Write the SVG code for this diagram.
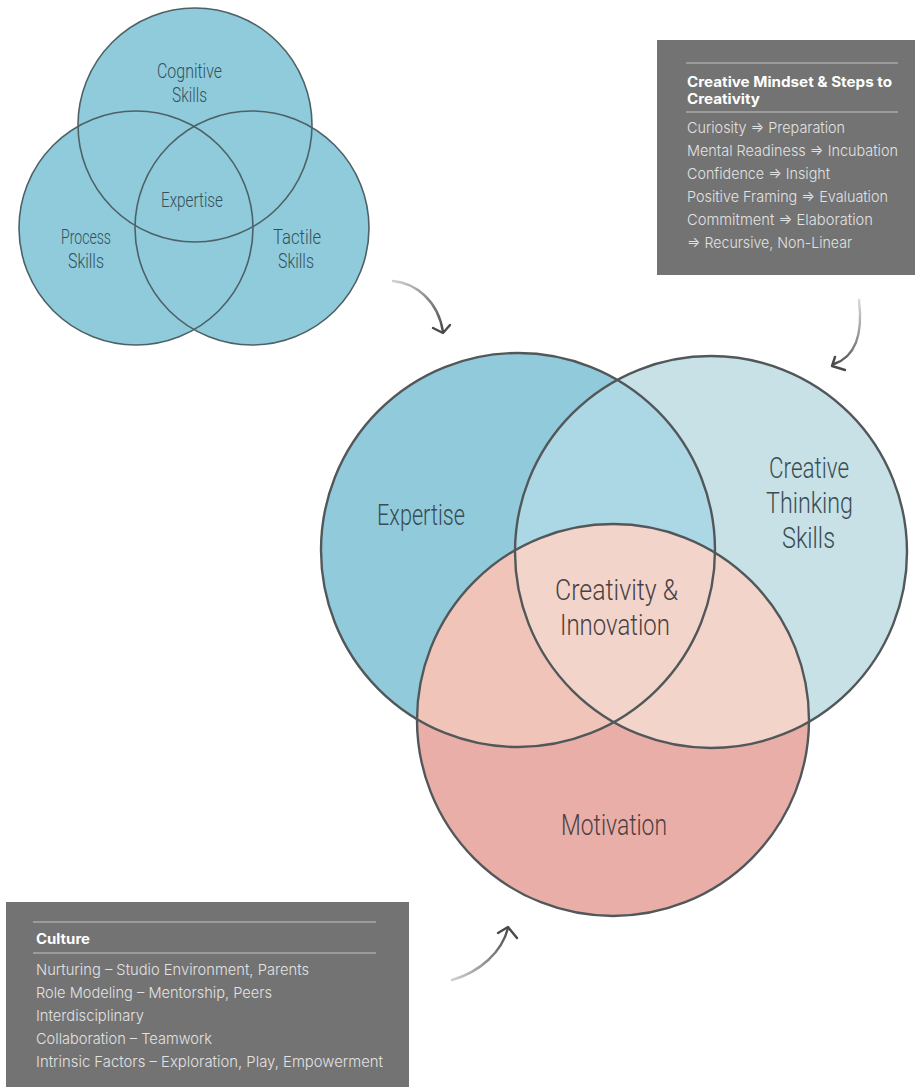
<svg xmlns="http://www.w3.org/2000/svg" width="915" height="1087" viewBox="0 0 915 1087">
<style>
.hand{font-family:"Roboto","DejaVu Sans Condensed",sans-serif;font-weight:300;text-anchor:start;}
.s{font-size:20px;fill:#34505a;}
.b{font-size:30px;fill:#3a4d54;}
.bm{font-size:30px;fill:#4a4042;}
.sc{fill:none;stroke:#4d6167;stroke-width:1.6;}
.bc{fill:none;stroke:#52585a;stroke-width:2.4;}
.box{fill:#737373;}
.rule{stroke:#d8d8d8;stroke-width:1.2;opacity:0.8;}
.h{font-family:"Inter","Liberation Sans",sans-serif;font-weight:700;font-size:14px;fill:#ffffff;}
.t{font-family:"Inter","Liberation Sans",sans-serif;font-weight:300;font-size:15px;fill:#e2e2e2;}
.arr{fill:none;stroke-width:2.4;stroke-linecap:round;stroke-linejoin:round;}
</style>
<defs>
<clipPath id="cE"><circle cx="518" cy="550" r="197"/></clipPath>
<clipPath id="cC"><circle cx="711" cy="552" r="196"/></clipPath>
<linearGradient id="g1" gradientUnits="userSpaceOnUse" x1="393" y1="282" x2="443" y2="333"><stop offset="0" stop-color="#d0d0d0"/><stop offset="1" stop-color="#4a4a4a"/></linearGradient>
<linearGradient id="g2" gradientUnits="userSpaceOnUse" x1="859" y1="300" x2="832" y2="366"><stop offset="0" stop-color="#d8d8d8"/><stop offset="1" stop-color="#4a4a4a"/></linearGradient>
<linearGradient id="g3" gradientUnits="userSpaceOnUse" x1="452" y1="980" x2="508" y2="927"><stop offset="0" stop-color="#d0d0d0"/><stop offset="1" stop-color="#4a4a4a"/></linearGradient>
</defs>
<rect width="915" height="1087" fill="#ffffff"/>

<!-- small venn fills -->
<g id="small-fills" fill="#8fcbdb">
<circle cx="195" cy="125" r="117"/>
<circle cx="136" cy="228" r="117"/>
<circle cx="252" cy="228" r="117"/>
</g>
<g id="node-cognitive">
<circle class="sc" cx="195" cy="125" r="117"/>
<text class="hand s" x="157" y="78" textLength="65" lengthAdjust="spacingAndGlyphs">Cognitive</text>
<text class="hand s" x="172" y="102" textLength="35" lengthAdjust="spacingAndGlyphs">Skills</text>
</g>
<g id="node-process">
<circle class="sc" cx="136" cy="228" r="117"/>
<text class="hand s" x="61" y="244" textLength="50" lengthAdjust="spacingAndGlyphs">Process</text>
<text class="hand s" x="68" y="268" textLength="36" lengthAdjust="spacingAndGlyphs">Skills</text>
</g>
<g id="node-tactile">
<circle class="sc" cx="252" cy="228" r="117"/>
<text class="hand s" x="273" y="244" textLength="48" lengthAdjust="spacingAndGlyphs">Tactile</text>
<text class="hand s" x="278" y="268" textLength="36" lengthAdjust="spacingAndGlyphs">Skills</text>
</g>
<g id="node-small-expertise">
<text class="hand s" x="161" y="207" textLength="62" lengthAdjust="spacingAndGlyphs">Expertise</text>
</g>

<!-- big venn region fills -->
<g id="big-fills">
<circle cx="518" cy="550" r="197" fill="#91cbdb"/>
<circle cx="711" cy="552" r="196" fill="#c7e1e6"/>
<g clip-path="url(#cE)"><circle cx="711" cy="552" r="196" fill="#acd7e5"/></g>
<circle cx="613" cy="720" r="196" fill="#eaaea8"/>
<g clip-path="url(#cE)"><circle cx="613" cy="720" r="196" fill="#f1c4ba"/></g>
<g clip-path="url(#cC)"><circle cx="613" cy="720" r="196" fill="#f2d4ca"/></g>
<g clip-path="url(#cE)"><g clip-path="url(#cC)"><circle cx="613" cy="720" r="196" fill="#f3d4ca"/></g></g>
</g>
<g id="node-expertise">
<circle class="bc" cx="518" cy="550" r="197"/>
<text class="hand b" x="377" y="525" textLength="88" lengthAdjust="spacingAndGlyphs">Expertise</text>
</g>
<g id="node-creative-thinking">
<circle class="bc" cx="711" cy="552" r="196"/>
<text class="hand b" x="769" y="478" textLength="80" lengthAdjust="spacingAndGlyphs">Creative</text>
<text class="hand b" x="766" y="513" textLength="87" lengthAdjust="spacingAndGlyphs">Thinking</text>
<text class="hand b" x="782" y="548" textLength="53" lengthAdjust="spacingAndGlyphs">Skills</text>
</g>
<g id="node-motivation">
<circle class="bc" cx="613" cy="720" r="196"/>
<text class="hand bm" x="561" y="835" textLength="106" lengthAdjust="spacingAndGlyphs">Motivation</text>
</g>
<g id="node-creativity-innovation">
<text class="hand bm" x="555" y="600" textLength="123" lengthAdjust="spacingAndGlyphs">Creativity &amp;</text>
<text class="hand bm" x="560" y="635" textLength="110" lengthAdjust="spacingAndGlyphs">Innovation</text>
</g>

<!-- boxes -->
<g id="node-mindset">
<rect class="box" x="657" y="40" width="258" height="235"/>
<line class="rule" x1="686" y1="63" x2="898" y2="63"/>
<text class="h" x="687" y="87" textLength="205" lengthAdjust="spacingAndGlyphs">Creative Mindset &amp; Steps to</text>
<text class="h" x="687" y="104" textLength="73" lengthAdjust="spacingAndGlyphs">Creativity</text>
<line class="rule" x1="686" y1="112" x2="898" y2="112"/>
<text class="t" x="687" y="133" textLength="158" lengthAdjust="spacingAndGlyphs">Curiosity ⇒ Preparation</text>
<text class="t" x="687" y="156" textLength="211" lengthAdjust="spacingAndGlyphs">Mental Readiness ⇒ Incubation</text>
<text class="t" x="687" y="179" textLength="143" lengthAdjust="spacingAndGlyphs">Confidence ⇒ Insight</text>
<text class="t" x="687" y="202" textLength="201" lengthAdjust="spacingAndGlyphs">Positive Framing ⇒ Evaluation</text>
<text class="t" x="687" y="225" textLength="186" lengthAdjust="spacingAndGlyphs">Commitment ⇒ Elaboration</text>
<text class="t" x="687" y="248" textLength="165" lengthAdjust="spacingAndGlyphs">⇒ Recursive, Non-Linear</text>
</g>
<g id="node-culture">
<rect class="box" x="6" y="902" width="403" height="185"/>
<line class="rule" x1="33" y1="922" x2="376" y2="922"/>
<text class="h" x="36" y="944" textLength="54" lengthAdjust="spacingAndGlyphs">Culture</text>
<line class="rule" x1="33" y1="953" x2="376" y2="953"/>
<text class="t" x="36" y="975" textLength="273" lengthAdjust="spacingAndGlyphs">Nurturing – Studio Environment, Parents</text>
<text class="t" x="36" y="998" textLength="236" lengthAdjust="spacingAndGlyphs">Role Modeling – Mentorship, Peers</text>
<text class="t" x="36" y="1021" textLength="108" lengthAdjust="spacingAndGlyphs">Interdisciplinary</text>
<text class="t" x="36" y="1044" textLength="176" lengthAdjust="spacingAndGlyphs">Collaboration – Teamwork</text>
<text class="t" x="36" y="1067" textLength="347" lengthAdjust="spacingAndGlyphs">Intrinsic Factors  – Exploration, Play, Empowerment</text>
</g>

<!-- connectors -->
<g id="connectors">
<path class="arr" stroke="url(#g1)" d="M393 281 C415 283 438 300 443 332"/>
<path class="arr" stroke="#4a4a4a" d="M433 328 L443 333 L450 325"/>
<path class="arr" stroke="url(#g2)" d="M859 300 C862 325 860 355 834 364"/>
<path class="arr" stroke="#4a4a4a" d="M835 357 L832 366 L845 370"/>
<path class="arr" stroke="url(#g3)" d="M452 980 C480 972 502 952 508 928"/>
<path class="arr" stroke="#4a4a4a" d="M498 933 L508 927 L517 938"/>
</g>
</svg>
